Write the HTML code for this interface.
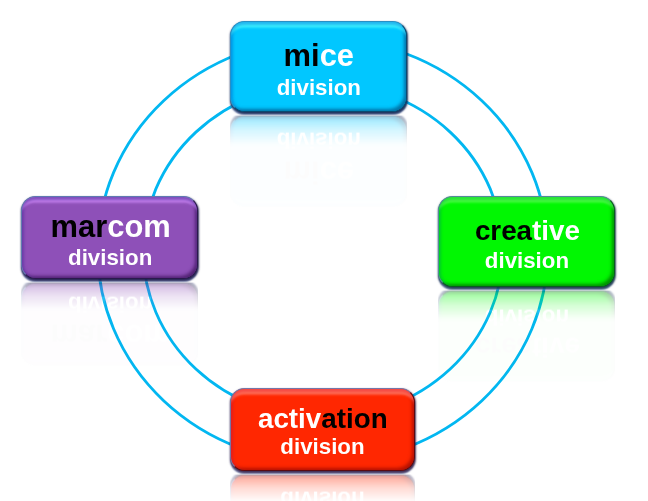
<!DOCTYPE html>
<html>
<head>
<meta charset="utf-8">
<title>divisions</title>
<style>
html,body{margin:0;padding:0;background:#fff;}
body{width:648px;height:501px;position:relative;overflow:hidden;font-family:"Liberation Sans",sans-serif;}
svg.rings{position:absolute;left:0;top:0;}
.box{position:absolute;box-sizing:border-box;border-radius:14.5px;text-align:center;font-weight:bold;color:#fff;
  -webkit-box-reflect:below 3.6px linear-gradient(to bottom, rgba(255,255,255,0.01) 0%, rgba(255,255,255,0.01) 66%, rgba(255,255,255,0.035) 70%, rgba(255,255,255,0.17) 84%, rgba(255,255,255,0.42) 100%);
}
.box .t{position:absolute;left:0;right:0;font-size:30.9px;line-height:30px;white-space:nowrap;}
.box .t.s{font-size:27.8px;}
.box .d{position:absolute;left:0;right:0;font-size:22.3px;line-height:22px;white-space:nowrap;}
.box b{color:#000;font-weight:bold;}
.box{border:1px solid var(--edge);border-right-color:var(--edge2);border-bottom-color:var(--edge2);background:var(--fill);
  box-shadow:0.6px 1.6px 2px var(--drop), 0 3.4px 1.5px -0.5px rgba(100,118,172,.7),
    inset 0 3.5px 3px -0.5px var(--topdark),
    inset 0 9px 2.5px -3.5px var(--hi),
    inset 3.5px 0 3px -1.5px var(--leftdark),
    inset -3.5px -3.5px 3.5px -1.5px var(--brdark);}
.cy{left:230.3px;top:21.3px;width:177px;height:90.5px;--fill:#01c7ff;--edge:#2a8fc4;--edge2:#0a4a70;--drop:rgba(0,25,70,.8);--topdark:rgba(10,130,225,.55);--hi:rgba(70,250,255,.95);--leftdark:rgba(0,130,215,.6);--brdark:rgba(0,70,120,.65);}
.pu{left:21.3px;top:195.8px;width:177.2px;height:83.3px;--fill:#8e50b8;--edge:#5f7ab0;--edge2:#2a1a4c;--drop:rgba(15,10,60,.8);--topdark:rgba(100,60,170,.75);--hi:rgba(205,135,245,.95);--leftdark:rgba(90,50,160,.6);--brdark:rgba(50,10,80,.65);}
.gr{left:438.1px;top:195.9px;width:177.1px;height:91.4px;--fill:#01f702;--edge:#56889a;--edge2:#0a5a20;--drop:rgba(0,35,50,.75);--topdark:rgba(0,200,40,.5);--hi:rgba(110,255,100,.7);--leftdark:rgba(0,180,70,.6);--brdark:rgba(0,90,0,.65);}
.re{left:229.9px;top:387.5px;width:185.2px;height:83.2px;--fill:#ff2701;--edge:#7577a8;--edge2:#5a0a10;--drop:rgba(40,10,50,.75);--topdark:rgba(235,30,40,.5);--hi:rgba(255,125,105,.9);--leftdark:rgba(210,30,50,.6);--brdark:rgba(120,0,0,.55);}
</style>
</head>
<body>
<svg class="rings" width="648" height="501" viewBox="0 0 648 501">
  <ellipse cx="322.75" cy="250.7" rx="225" ry="212.1" fill="none" stroke="#02b7f1" stroke-width="2.8"/>
  <ellipse cx="323.05" cy="250.55" rx="179.8" ry="167.5" fill="none" stroke="#02b7f1" stroke-width="2.8"/>
</svg>
<div class="box cy"><div class="t" style="top:18.8px"><b>mi</b>ce</div><div class="d" style="top:55px">division</div></div>
<div class="box pu"><div class="t" style="top:15.4px;left:1.6px"><b>mar</b>com</div><div class="d" style="top:50px;left:0.5px">division</div></div>
<div class="box gr"><div class="t s" style="top:19px;left:1.6px"><b>crea</b>tive</div><div class="d" style="top:53px;left:0.6px">division</div></div>
<div class="box re"><div class="t s" style="top:15.5px;left:0.7px">activ<b>ation</b></div><div class="d" style="top:47px">division</div></div>
</body>
</html>
